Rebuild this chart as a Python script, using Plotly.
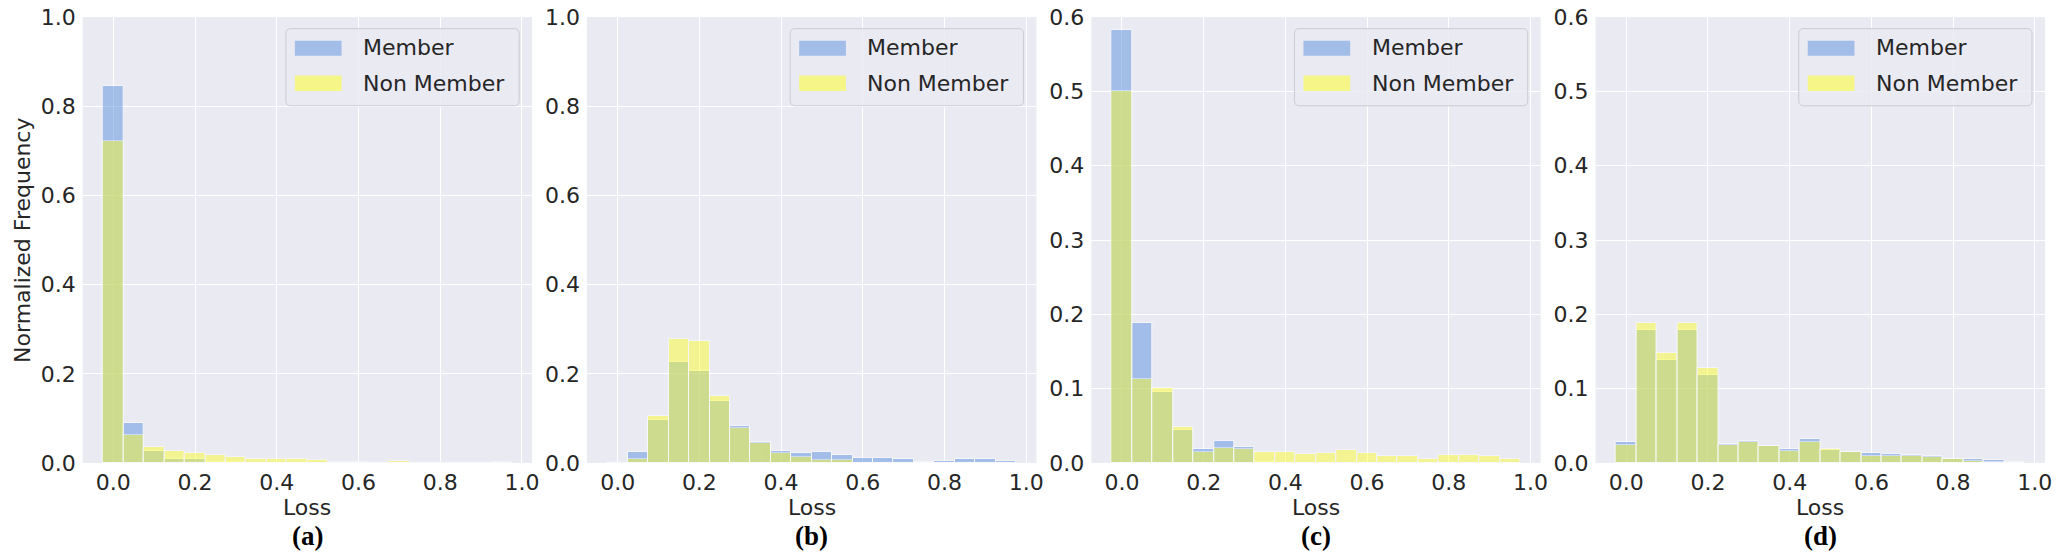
import plotly.graph_objects as go

# bin centres of the loss histogram (bin width 0.05)
bins = [0.0, 0.05, 0.1, 0.15, 0.2, 0.25, 0.3, 0.35, 0.4, 0.45,
        0.5, 0.55, 0.6, 0.65, 0.7, 0.75, 0.8, 0.85, 0.9, 0.95]

# (a)
a_member = [0.845, 0.089, 0.028, 0.010, 0.010, 0.003, 0.002, 0.001, 0.001, 0.001,
            0.001, 0.0, 0.0, 0.0, 0.0, 0.0, 0.0, 0.0, 0.0, 0.0]
a_nonmember = [0.723, 0.062, 0.036, 0.027, 0.023, 0.018, 0.013, 0.010, 0.008, 0.008,
               0.006, 0.002, 0.002, 0.0, 0.004, 0.0, 0.0, 0.0, 0.0, 0.003]
# (b)
b_member = [0.0, 0.024, 0.097, 0.226, 0.206, 0.139, 0.083, 0.047, 0.028, 0.023,
            0.025, 0.017, 0.011, 0.011, 0.008, 0.003, 0.004, 0.010, 0.008, 0.004]
b_nonmember = [0.0, 0.008, 0.105, 0.277, 0.273, 0.150, 0.079, 0.044, 0.023, 0.014,
               0.006, 0.006, 0.0, 0.0, 0.0, 0.0, 0.0, 0.0, 0.0, 0.0]
# (c)
c_member = [0.583, 0.189, 0.096, 0.044, 0.019, 0.029, 0.022, 0.002, 0.0, 0.0,
            0.0, 0.0, 0.0, 0.0, 0.0, 0.0, 0.0, 0.0, 0.0, 0.0]
c_nonmember = [0.500, 0.113, 0.101, 0.048, 0.015, 0.020, 0.019, 0.015, 0.015, 0.012,
               0.014, 0.018, 0.014, 0.009, 0.009, 0.005, 0.011, 0.011, 0.009, 0.005]
# (d)
d_member = [0.028, 0.179, 0.139, 0.179, 0.119, 0.026, 0.030, 0.023, 0.019, 0.032,
            0.017, 0.015, 0.013, 0.012, 0.011, 0.009, 0.006, 0.005, 0.004, 0.0015]
d_nonmember = [0.024, 0.189, 0.148, 0.189, 0.128, 0.024, 0.028, 0.023, 0.016, 0.028,
               0.019, 0.015, 0.0095, 0.010, 0.009, 0.008, 0.006, 0.003, 0.002, 0.0]

x_ticks = [0.0, 0.2, 0.4, 0.6, 0.8, 1.0]
panel_labels = ['(a)', '(b)', '(c)', '(d)']
y_max = [1.0, 1.0, 0.6, 0.6]
y_step = [0.2, 0.2, 0.1, 0.1]
series = [(a_member, a_nonmember), (b_member, b_nonmember),
          (c_member, c_nonmember), (d_member, d_nonmember)]

W, H = 2068, 554
left_px = [83, 589, 1095, 1601]
plot_w = 451

BG = '#eaeaf2'
TXT = '#262626'
BLUE, BLUE_OP = 'rgb(100,150,225)', 0.53
YEL, YEL_OP = 'rgb(255,255,30)', 0.45
SANS = 'DejaVu Sans'

fig = go.Figure()
annotations = []
shapes = []

for i in range(4):
    n = '' if i == 0 else str(i + 1)
    xa, ya = 'x' + n, 'y' + n
    mem, non = series[i]
    fig.add_trace(go.Bar(x=bins, y=mem, width=0.05, name='Member',
                         marker=dict(color=BLUE, line=dict(color='white', width=1)),
                         opacity=BLUE_OP, xaxis=xa, yaxis=ya, showlegend=False))
    fig.add_trace(go.Bar(x=bins, y=non, width=0.05, name='Non Member',
                         marker=dict(color=YEL, line=dict(color='white', width=1)),
                         opacity=YEL_OP, xaxis=xa, yaxis=ya, showlegend=False))

    l = left_px[i]
    fig.update_layout({
        'xaxis' + n: dict(domain=[l / W, (l + plot_w) / W], anchor=ya,
                          range=[-0.075, 1.025], tickvals=x_ticks, tickformat='.1f',
                          showgrid=True, gridcolor='white', gridwidth=1.3,
                          zeroline=False, showline=False, ticks='',
                          ticklabelstandoff=4,
                          tickfont=dict(family=SANS, size=22, color=TXT)),
        'yaxis' + n: dict(domain=[0, 1], anchor=xa,
                          range=[0, y_max[i]], dtick=y_step[i], tickformat='.1f',
                          showgrid=True, gridcolor='white', gridwidth=1.3,
                          zeroline=False, showline=False, ticks='',
                          ticklabelstandoff=6,
                          tickfont=dict(family=SANS, size=22, color=TXT)),
    })

    dx, dy = xa + ' domain', ya + ' domain'
    # legend box drawn by hand (wide swatches like the original)
    x0, x1, y0, y1 = 0.452, 0.971, 0.801, 0.974
    rx, ry = 5 / plot_w, 5 / 446
    path = (f'M {x0+rx},{y0} L {x1-rx},{y0} Q {x1},{y0} {x1},{y0+ry} '
            f'L {x1},{y1-ry} Q {x1},{y1} {x1-rx},{y1} L {x0+rx},{y1} '
            f'Q {x0},{y1} {x0},{y1-ry} L {x0},{y0+ry} Q {x0},{y0} {x0+rx},{y0} Z')
    shapes.append(dict(type='path', path=path, xref=dx, yref=dy,
                       fillcolor='rgba(234,234,242,0.8)',
                       line=dict(color='rgba(200,200,208,0.9)', width=1)))
    shapes.append(dict(type='rect', xref=dx, yref=dy, x0=0.472, x1=0.576,
                       y0=0.913, y1=0.947, fillcolor=BLUE, opacity=BLUE_OP,
                       line=dict(width=0)))
    shapes.append(dict(type='rect', xref=dx, yref=dy, x0=0.472, x1=0.576,
                       y0=0.834, y1=0.869, fillcolor=YEL, opacity=YEL_OP + 0.05,
                       line=dict(width=0)))
    annotations.append(dict(text='Member', xref=dx, yref=dy, x=0.619, y=0.931,
                            xanchor='left', yanchor='middle', showarrow=False,
                            font=dict(family=SANS, size=22, color=TXT)))
    annotations.append(dict(text='Non Member', xref=dx, yref=dy, x=0.619, y=0.851,
                            xanchor='left', yanchor='middle', showarrow=False,
                            font=dict(family=SANS, size=22, color=TXT)))
    # x title and panel letter
    annotations.append(dict(text='Loss', xref=dx, yref=dy, x=0.5, y=-0.099,
                            xanchor='center', yanchor='middle', showarrow=False,
                            font=dict(family=SANS, size=22, color=TXT)))
    annotations.append(dict(text='<b>' + panel_labels[i] + '</b>', xref=dx, yref=dy,
                            x=0.5, y=-0.163, xanchor='center', yanchor='middle',
                            showarrow=False,
                            font=dict(family='Liberation Serif', size=27, color='black')))

annotations.append(dict(text='Normalized Frequency', xref='paper', yref='paper',
                        x=22 / W, y=0.5, textangle=-90, xanchor='center',
                        yanchor='middle', showarrow=False,
                        font=dict(family=SANS, size=22, color=TXT)))

fig.update_layout(
    width=W, height=H,
    margin=dict(l=0, r=0, t=17, b=91),
    barmode='overlay', bargap=0,
    plot_bgcolor=BG, paper_bgcolor='white',
    annotations=annotations, shapes=shapes,
    showlegend=False,
)

fig.write_html("out.html", config={'displayModeBar': False},
               post_script="document.body.style.margin='0';")
